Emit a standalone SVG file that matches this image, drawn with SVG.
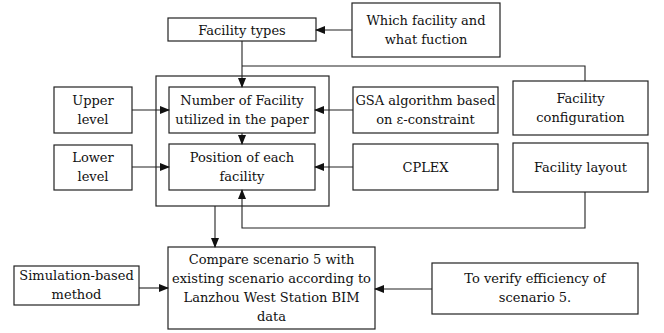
<svg xmlns="http://www.w3.org/2000/svg" width="664" height="333" viewBox="0 0 664 333">
<style>
rect{fill:#fff;stroke:#222;stroke-width:1.2}
text{font-family:"DejaVu Serif","Liberation Serif",serif;font-size:13px;fill:#111;text-anchor:middle}
.c{fill:none;stroke:#222;stroke-width:1.1}
</style>
<defs>
<marker id="a" markerWidth="10" markerHeight="8" refX="9" refY="4" orient="auto" markerUnits="userSpaceOnUse">
<path d="M0,0 L10,4 L0,8 Z" fill="#111"/>
</marker>
</defs>
<g id="outer"><rect x="156" y="76" width="173" height="130"/></g>
<g id="facility-types"><rect x="168" y="18" width="148" height="23"/><text x="242" y="34.5">Facility types</text></g>
<g id="which"><rect x="352" y="3" width="148" height="54"/><text x="426" y="25">Which facility and</text><text x="426" y="44">what fuction</text></g>
<g id="number"><rect x="169" y="87" width="146" height="46"/><text x="242" y="104.5">Number of Facility</text><text x="242" y="123.5">utilized in the paper</text></g>
<g id="position"><rect x="169" y="144" width="146" height="46"/><text x="242" y="162">Position of each</text><text x="242" y="181">facility</text></g>
<g id="upper"><rect x="54" y="87" width="78" height="46"/><text x="93" y="104.5">Upper</text><text x="93" y="123.5">level</text></g>
<g id="lower"><rect x="54" y="145" width="78" height="45"/><text x="93" y="162">Lower</text><text x="93" y="181">level</text></g>
<g id="gsa"><rect x="353" y="87" width="145" height="46"/><text x="425.5" y="104.5">GSA algorithm based</text><text x="425.5" y="123.5">on ε-constraint</text></g>
<g id="cplex"><rect x="353" y="144" width="145" height="46"/><text x="425.5" y="172">CPLEX</text></g>
<g id="config"><rect x="513" y="81" width="135" height="54"/><text x="580.5" y="102.5">Facility</text><text x="580.5" y="121.5">configuration</text></g>
<g id="layout"><rect x="513" y="143" width="135" height="49"/><text x="580.5" y="172">Facility layout</text></g>
<g id="compare"><rect x="168" y="247" width="207" height="82"/><text x="271.5" y="264">Compare scenario 5 with</text><text x="271.5" y="283">existing scenario according to</text><text x="271.5" y="302">Lanzhou West Station BIM</text><text x="271.5" y="321">data</text></g>
<g id="simulation"><rect x="14" y="266" width="125" height="39"/><text x="76.5" y="280">Simulation-based</text><text x="76.5" y="299">method</text></g>
<g id="verify"><rect x="432" y="263" width="206" height="51"/><text x="535" y="283">To verify efficiency of</text><text x="535" y="302">scenario 5.</text></g>
<g id="connectors">
<line class="c" x1="352" y1="30" x2="316" y2="30" marker-end="url(#a)"/>
<line class="c" x1="242" y1="41" x2="242" y2="87" marker-end="url(#a)"/>
<polyline class="c" points="242,66 585,66 585,81"/>
<line class="c" x1="242" y1="133" x2="242" y2="144" marker-end="url(#a)"/>
<line class="c" x1="132" y1="110" x2="169" y2="110" marker-end="url(#a)"/>
<line class="c" x1="132" y1="167" x2="169" y2="167" marker-end="url(#a)"/>
<line class="c" x1="353" y1="110" x2="315" y2="110" marker-end="url(#a)"/>
<line class="c" x1="353" y1="167" x2="315" y2="167" marker-end="url(#a)"/>
<polyline class="c" points="585,192 585,228 242,228 242,190" marker-end="url(#a)"/>
<line class="c" x1="215" y1="206" x2="215" y2="247" marker-end="url(#a)"/>
<line class="c" x1="139" y1="288" x2="168" y2="288" marker-end="url(#a)"/>
<line class="c" x1="432" y1="289" x2="375" y2="289" marker-end="url(#a)"/>
</g>
</svg>
